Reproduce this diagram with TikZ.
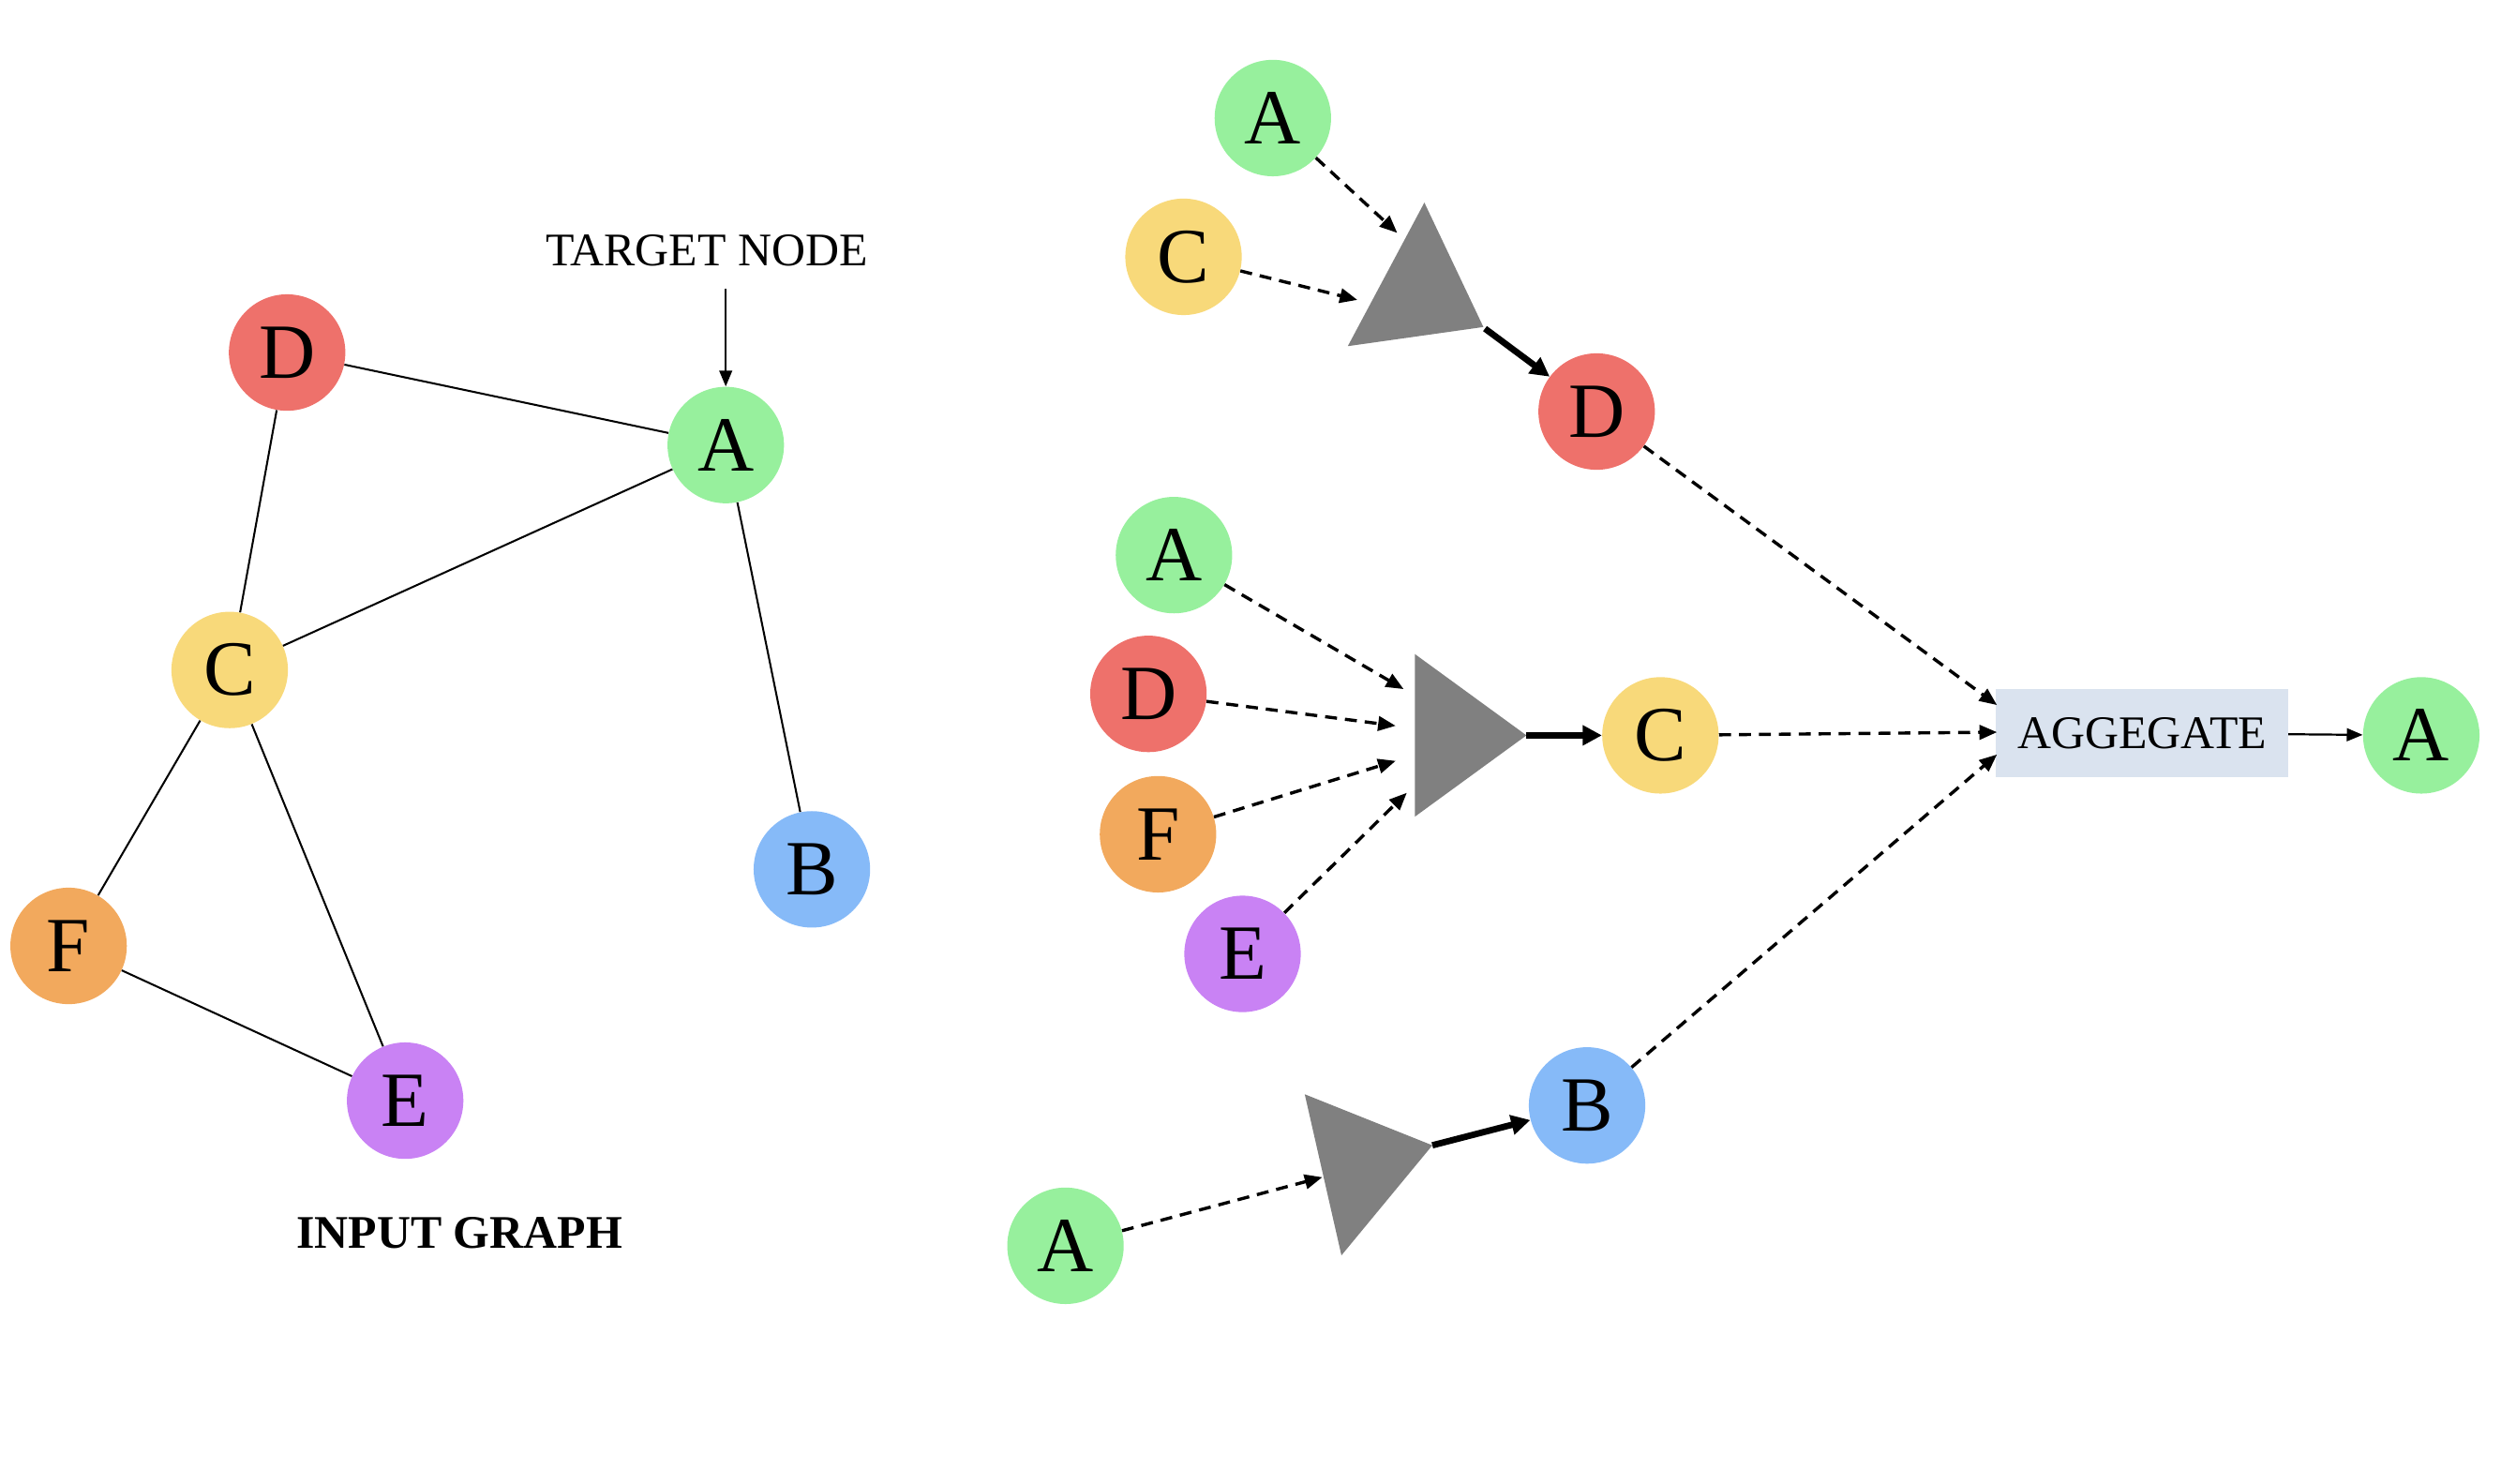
\documentclass[tikz,border=0pt]{standalone}
\usepackage{fontspec}
\setmainfont{Liberation Serif}
\usetikzlibrary{arrows.meta}
\definecolor{cgreen}{HTML}{97F09D}
\definecolor{cyellow}{HTML}{F8D97A}
\definecolor{cred}{HTML}{EE716B}
\definecolor{cblue}{HTML}{86BAF8}
\definecolor{corange}{HTML}{F2A95D}
\definecolor{cpurple}{HTML}{C982F4}
\definecolor{ctri}{HTML}{808080}
\definecolor{cbox}{HTML}{DAE3EF}
\begin{document}
\begin{tikzpicture}[x=1pt,y=-1pt,
  vtx/.style={circle, minimum size=73pt, inner sep=0pt, font=\fontsize{49}{56}\selectfont},
  lbl/.style={inner sep=0pt, font=\fontsize{29.3}{34}\selectfont},
  edge/.style={line width=1.2pt},
  thinarrow/.style={line width=1.3pt, -{Triangle[length=10pt,width=8pt]}},
  dasharrow/.style={line width=2pt, dash pattern=on 7.5pt off 5pt, -{Triangle[length=11pt,width=9pt]}},
  thickarrow/.style={line width=4pt, -{Triangle[length=12pt,width=12pt]}},
  tri/.style={fill=ctri}
]
\useasboundingbox (0,0) rectangle (1568,930);

% ---------- input graph ----------
\node[vtx, fill=cred]    (D) at (180,221) {D};
\node[vtx, fill=cgreen]  (A) at (455,279) {A};
\node[vtx, fill=cyellow] (C) at (144,420) {C};
\node[vtx, fill=cblue]   (B) at (509,545) {B};
\node[vtx, fill=corange] (F) at (43,593)  {F};
\node[vtx, fill=cpurple] (E) at (254,690) {E};
\draw[edge] (D) -- (A);
\draw[edge] (D) -- (C);
\draw[edge] (A) -- (C);
\draw[edge] (A) -- (B);
\draw[edge] (C) -- (F);
\draw[edge] (C) -- (E);
\draw[edge] (F) -- (E);

\node[lbl] (target) at (443,157) {TARGET NODE};
\coordinate (tstart) at (455,181);
\draw[thinarrow] (tstart) -- (A);
\node[lbl, font=\fontsize{29.3}{34}\selectfont\bfseries] (input) at (288,773) {INPUT GRAPH};

% ---------- top branch ----------
\node[vtx, fill=cgreen]  (A1) at (798,74)  {A};
\node[vtx, fill=cyellow] (C1) at (742,161) {C};
\node[vtx, fill=cred]    (D1) at (1001,258) {D};
\coordinate (t1a) at (893,127);
\coordinate (t1b) at (845,217);
\coordinate (t1c) at (930,205);
\fill[tri] (t1a) -- (t1b) -- (t1c) -- cycle;
\coordinate (t1inA) at (876,146);
\coordinate (t1inC) at (851,188);
\coordinate (t1out) at (931,206);
\draw[dasharrow] (A1) -- (t1inA);
\draw[dasharrow] (C1) -- (t1inC);
\draw[thickarrow] (t1out) -- (D1);

% ---------- middle branch ----------
\node[vtx, fill=cgreen]  (A2) at (736,348) {A};
\node[vtx, fill=cred]    (D2) at (720,435) {D};
\node[vtx, fill=corange] (F2) at (726,523) {F};
\node[vtx, fill=cpurple] (E2) at (779,598) {E};
\node[vtx, fill=cyellow] (C2) at (1041,461) {C};
\coordinate (t2a) at (887,410);
\coordinate (t2b) at (887,512);
\coordinate (t2c) at (957,461);
\fill[tri] (t2a) -- (t2b) -- (t2c) -- cycle;
\coordinate (t2inA) at (880,432);
\coordinate (t2inD) at (875,455);
\coordinate (t2inF) at (875,477);
\coordinate (t2inE) at (882,497);
\draw[dasharrow] (A2) -- (t2inA);
\draw[dasharrow] (D2) -- (t2inD);
\draw[dasharrow] (F2) -- (t2inF);
\draw[dasharrow] (E2) -- (t2inE);
\draw[thickarrow] (t2c) -- (C2);

% ---------- bottom branch ----------
\node[vtx, fill=cgreen] (A3) at (668,781) {A};
\node[vtx, fill=cblue]  (B3) at (995,693) {B};
\coordinate (t3a) at (818,686);
\coordinate (t3b) at (841,787);
\coordinate (t3c) at (898,718);
\fill[tri] (t3a) -- (t3b) -- (t3c) -- cycle;
\coordinate (t3in) at (829,738);
\draw[dasharrow] (A3) -- (t3in);
\draw[thickarrow] (t3c) -- (B3);

% ---------- aggregate ----------
\node[lbl, fill=cbox, minimum width=183pt, minimum height=55pt] (agg) at (1343,459.5) {AGGEGATE};
\node[vtx, fill=cgreen] (A4) at (1518,461) {A};
\coordinate (aggD) at (1252,442);
\coordinate (aggC) at (1252,459);
\coordinate (aggB) at (1252,473);
\draw[dasharrow] (D1) -- (aggD);
\draw[dasharrow] (C2) -- (aggC);
\draw[dasharrow] (B3) -- (aggB);
\draw[thinarrow] (agg) -- (A4);
\end{tikzpicture}
\end{document}
